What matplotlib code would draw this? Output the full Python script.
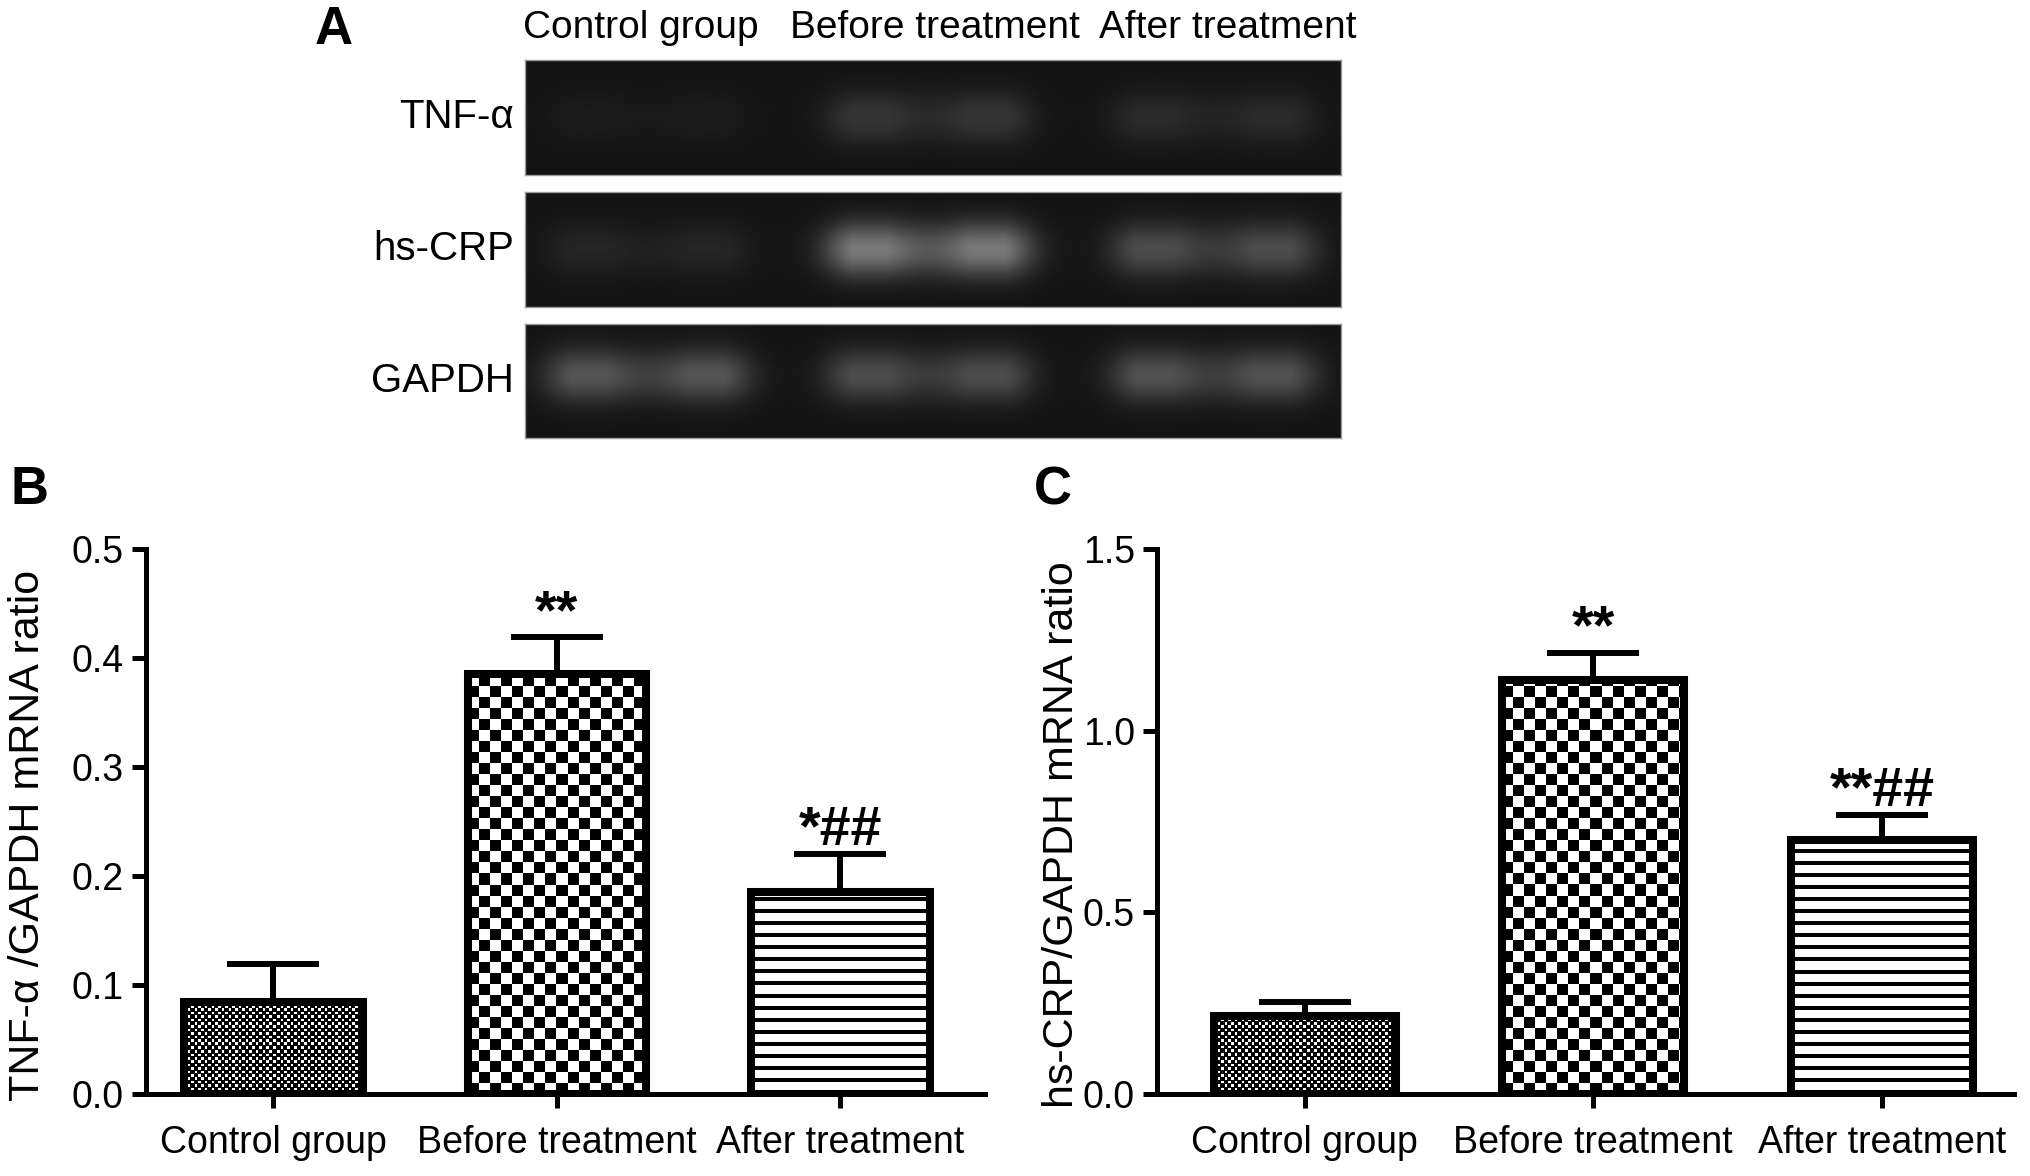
import numpy as np
import matplotlib
matplotlib.use("Agg")
import matplotlib.pyplot as plt

plt.rcParams['font.family'] = ['Liberation Sans', 'DejaVu Sans']

# ---- data ----
groups = ["Control group", "Before treatment", "After treatment"]

tnf_mean = [0.084, 0.385, 0.185]
tnf_err = [0.035, 0.034, 0.035]
tnf_marks = ["", "**", "*##"]

crp_mean = [0.215, 1.14, 0.70]
crp_err = [0.037, 0.075, 0.068]
crp_marks = ["", "**", "**##"]

gel_rows = ["TNF-α", "hs-CRP", "GAPDH"]
# band brightness per lane (0 = black, 1 = white)
tnf_band = [0.11, 0.21, 0.17]
crp_band = [0.15, 0.47, 0.30]
gapdh_band = [0.33, 0.30, 0.32]

W, H = 2031, 1176
fig = plt.figure(figsize=(W / 100, H / 100), dpi=100)


def rect(x0, y0, x1, y1):
    # pixel box (top-left origin) -> figure fraction
    return [x0 / W, 1 - y1 / H, (x1 - x0) / W, (y1 - y0) / H]


# ---- panel A: gel ----
strip_y = [(60, 175), (192, 307), (324, 438)]
lane_pos = [0.15, 0.495, 0.845]
gel_x0, gel_x1 = 525, 1341
bands = [tnf_band, crp_band, gapdh_band]
band_yc = [0.50, 0.50, 0.45]

for r, (ya, yb) in enumerate(strip_y):
    ax = fig.add_axes(rect(gel_x0, ya, gel_x1, yb))
    nx, ny = 400, 60
    xx = np.linspace(0, 1, nx)[None, :]
    yy = np.linspace(0, 1, ny)[:, None]
    img = np.full((ny, nx), 0.075)
    for k, c in enumerate(lane_pos):
        hump = (np.exp(-((xx - c + 0.08) / 0.055) ** 2) +
                np.exp(-((xx - c - 0.08) / 0.055) ** 2))
        base = np.exp(-((xx - c) / 0.12) ** 6)
        prof_x = np.clip(0.55 * base + 0.6 * hump, 0, 1.0)
        prof_y = np.exp(-((yy - band_yc[r]) / 0.24) ** 2)
        img += (bands[r][k] - 0.075) * prof_x * prof_y
    ax.imshow(img, cmap='gray', vmin=0, vmax=1, aspect='auto',
              interpolation='bilinear')
    ax.set_xticks([])
    ax.set_yticks([])
    for s in ax.spines.values():
        s.set_color('#9a9a9a')
        s.set_linewidth(1)
    fig.text(514 / W, 1 - (ya + yb) / 2 / H, gel_rows[r], ha='right',
             va='center', fontsize=29)

for name, xc in zip(groups, [641, 935, 1228]):
    fig.text(xc / W, 1 - 28 / H, name, ha='center', va='center', fontsize=28)

fig.text(334 / W, 1 - 30 / H, "A", ha='center', va='center', fontsize=38,
         fontweight='bold')
fig.text(30 / W, 1 - 490 / H, "B", ha='center', va='center', fontsize=38,
         fontweight='bold')
fig.text(1053 / W, 1 - 490 / H, "C", ha='center', va='center', fontsize=38,
         fontweight='bold')


# ---- bar panels ----
def pattern(kind, nx, ny):
    i = np.arange(ny)[:, None]
    j = np.arange(nx)[None, :]
    if kind == 0:
        s = 3.4
        ci, cj = np.floor(i / s), np.floor(j / s)
        fi, fj = i / s - ci, j / s - cj
        p = (((ci + cj) % 2 == 1) & (fi < 0.75) & (fj < 0.75)).astype(float)
    elif kind == 1:
        p = ((i // 11 + j // 11) % 2).astype(float)
    else:
        p = ((i % 12) >= 4).astype(float) + 0 * j
    return p


def bar_panel(box, means, errs, marks, ymax, yticks, xlim):
    ax = fig.add_axes(rect(*box))
    ax.set_xlim(*xlim)
    ax.set_ylim(0, ymax)
    x = np.arange(len(means))
    bars = ax.bar(x, means, width=0.63, facecolor='none', edgecolor='black',
                  linewidth=5.8, zorder=3)
    for k, b in enumerate(bars):
        x0, h, w = b.get_x(), b.get_height(), b.get_width()
        (p0x, p0y), (p1x, p1y) = ax.transData.transform([(x0, 0), (x0 + w, h)])
        nx, ny = int(abs(p1x - p0x)), int(abs(p1y - p0y))
        im = ax.imshow(pattern(k, nx, ny), cmap='gray', vmin=0, vmax=1,
                       extent=(x0, x0 + w, 0, h), origin='lower',
                       aspect='auto', interpolation='nearest', zorder=2)
        im.set_clip_path(b)
    ax.errorbar(x, means, yerr=[np.zeros(len(means)), errs], fmt='none',
                ecolor='black', elinewidth=4.3, capsize=33, capthick=4.3,
                zorder=2.5)
    for k in range(len(means)):
        if marks[k]:
            ax.annotate(marks[k], (x[k], means[k] + errs[k]),
                        xytext=(0, -2), textcoords='offset points',
                        ha='center', va='bottom', fontsize=40,
                        fontweight='bold')
    ax.set_xlim(*xlim)
    ax.set_ylim(0, ymax)
    ax.set_yticks(yticks)
    ax.set_yticklabels([f"{t:.1f}" for t in yticks])
    ax.set_xticks(x)
    ax.set_xticklabels(groups)
    for s in ['top', 'right']:
        ax.spines[s].set_visible(False)
    for s in ['left', 'bottom']:
        ax.spines[s].set_linewidth(3.6)
    ax.tick_params(axis='both', length=10, width=3.6, labelsize=27,
                   direction='out')
    ax.tick_params(axis='x', pad=12)
    ax.tick_params(axis='y', pad=6)
    return ax


bar_panel((146, 549, 985, 1094), tnf_mean, tnf_err, tnf_marks, 0.5,
          np.arange(0, 0.51, 0.1), (-0.449, 2.51))
bar_panel((1157, 549, 2014, 1094), crp_mean, crp_err, crp_marks, 1.5,
          np.arange(0, 1.51, 0.5), (-0.511, 2.457))

fig.text(28 / W, 1 - 835 / H, "TNF-α /GAPDH mRNA ratio", rotation=90,
         ha='center', va='center', fontsize=31)
fig.text(1062 / W, 1 - 835 / H, "hs-CRP/GAPDH mRNA ratio", rotation=90,
         ha='center', va='center', fontsize=31)

fig.savefig("out.png", dpi=100)
